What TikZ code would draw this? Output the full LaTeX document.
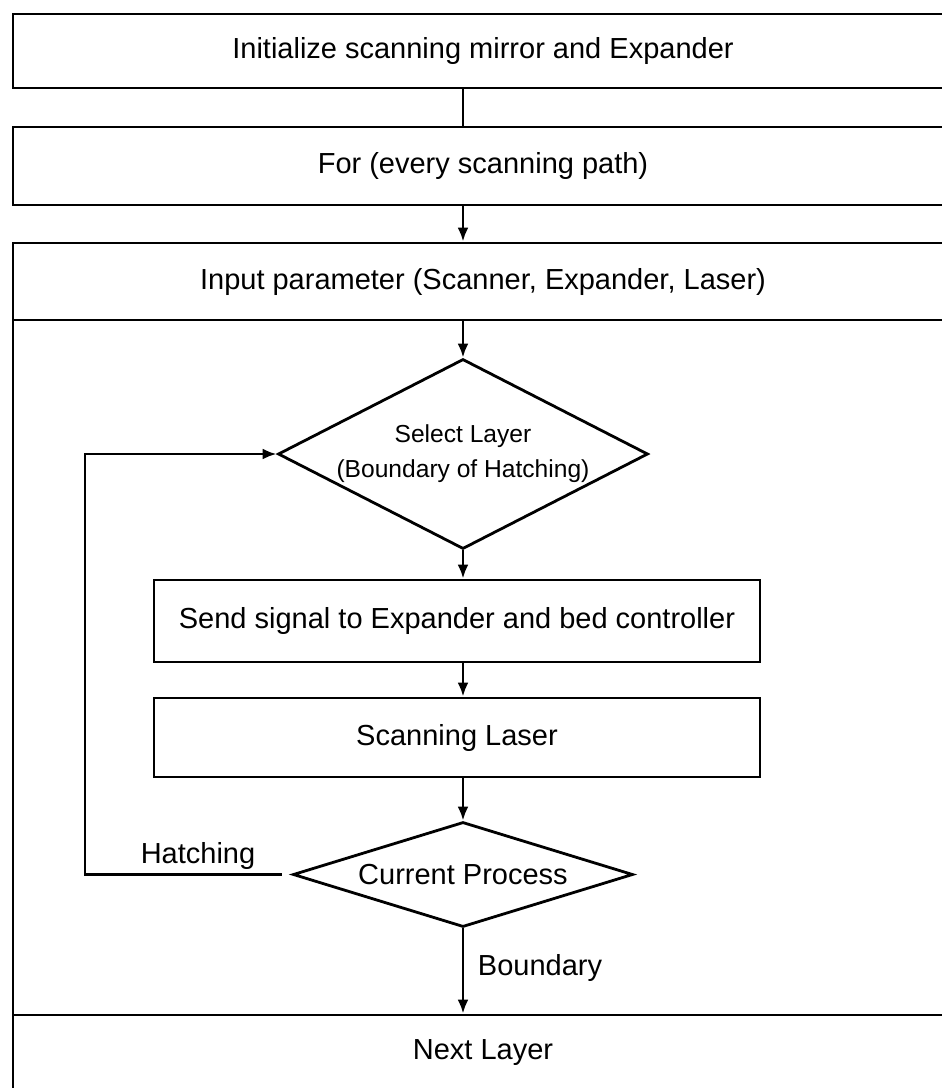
\documentclass[tikz,border=0pt]{standalone}
\usepackage{fontspec}
\setmainfont{Liberation Sans}
\usepackage{tikz}
\usetikzlibrary{calc}
\usetikzlibrary{arrows.meta}
\usetikzlibrary{shapes.geometric}

\begin{document}
\begin{tikzpicture}[x=0.5pt,y=-0.5pt,line width=1.4pt,
  >={Latex[length=7pt,width=5.5pt]},
  wide/.style={draw,rectangle,inner sep=0pt,minimum width=470pt,font=\fontsize{14.5}{17}\selectfont},
  stepbox/.style={draw,rectangle,inner sep=0pt,minimum width=303pt,font=\fontsize{14.5}{17}\selectfont},
  decide/.style={draw,diamond,inner sep=0pt,font=\fontsize{14.5}{17}\selectfont},
  lbl/.style={font=\fontsize{14.5}{17}\selectfont}]
  \clip (0,0) rectangle (942,1088);

\node[wide,minimum height=37pt] (init) at (483,51) {Initialize scanning mirror and Expander};
\node[wide,minimum height=39pt] (for) at (483,166) {For (every scanning path)};

% outer frame of the loop body
\draw (13,243) rectangle (953,1100);
\node[wide,minimum height=38.5pt] (input) at (483,281.5) {Input parameter (Scanner, Expander, Laser)};

\node[decide,aspect=1.95,minimum width=185pt,minimum height=95pt,align=center,font=\fontsize{12.3}{17.5}\selectfont] (sel) at (463,454) {Select Layer\\(Boundary of Hatching)};
\node[stepbox,minimum height=41pt] (send) at (457,621) {Send signal to Expander and bed controller};
\node[stepbox,minimum height=39.5pt] (scan) at (457,737.5) {Scanning Laser};
\node[decide,aspect=3.24,minimum width=170pt,minimum height=52.5pt] (cp) at (463,874.5) {Current Process};

\node[wide,minimum height=38pt] (next) at (483,1053) {Next Layer};

\coordinate (loopx) at (85,600);

\draw (init.south -| sel) -- (for.north -| sel);
\draw[->] (for.south -| sel) -- (input.north -| sel);
\draw[->] (input.south -| sel) -- (sel.north);
\draw[->] (sel.south) -- (sel.south |- send.north);
\draw[->] (sel.south |- send.south) -- (sel.south |- scan.north);
\draw[->] (sel.south |- scan.south) -- (cp.north);
\draw[->,shorten <=5pt] (cp.west) -- (cp.west -| loopx) |- (sel.west);
\draw[->] (cp.south) -- (cp.south |- next.north);

\node[lbl] (hatch) at (198,856) {Hatching};
\node[lbl] (bnd) at (540,968) {Boundary};
\end{tikzpicture}
\end{document}
